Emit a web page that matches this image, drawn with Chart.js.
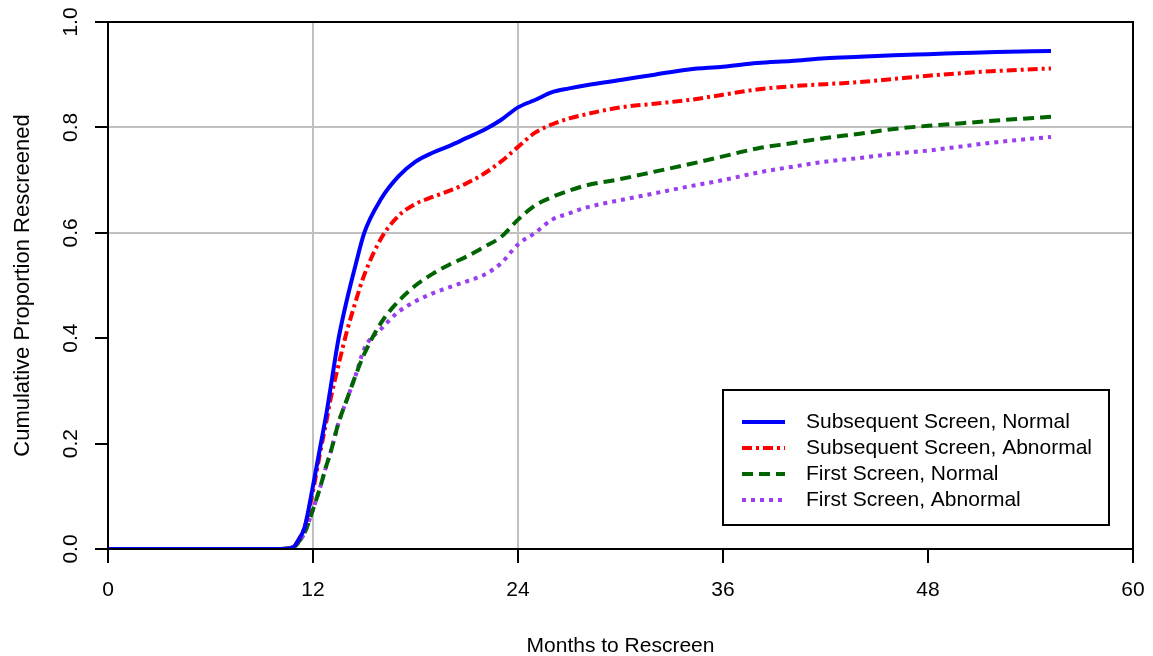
<!DOCTYPE html>
<html>
<head>
<meta charset="utf-8">
<script src="https://cdn.jsdelivr.net/npm/chart.js@4.4.0/dist/chart.umd.min.js"></script>
<style>
  html, body { margin: 0; padding: 0; background: #fff; }
  #wrap { width: 1153px; height: 656px; }
</style>
</head>
<body>
<div id="wrap"><canvas id="rescreen_chart" width="1153" height="656"></canvas></div>
<script>
// values (months since screen -> cumulative proportion)
var months       = [0, 10, 10.8, 11.2, 11.5, 12, 12.4, 12.8, 13, 13.5, 14, 14.5, 15, 16, 17, 18, 19, 20, 21, 22, 23, 24, 25, 26, 27, 28, 30, 32, 34, 36, 38, 40, 42, 44, 46, 48, 50, 52, 55.2];
var subNormal    = [0, 0, 0.003, 0.02, 0.04, 0.12, 0.19, 0.26, 0.30, 0.40, 0.475, 0.54, 0.60, 0.665, 0.707, 0.735, 0.752, 0.765, 0.78, 0.795, 0.814, 0.838, 0.852, 0.867, 0.874, 0.88, 0.89, 0.90, 0.91, 0.915, 0.922, 0.926, 0.931, 0.934, 0.937, 0.939, 0.941, 0.943, 0.945];
var subAbnormal  = [0, 0, 0.003, 0.02, 0.04, 0.11, 0.18, 0.245, 0.28, 0.35, 0.415, 0.47, 0.52, 0.59, 0.632, 0.655, 0.668, 0.68, 0.694, 0.712, 0.735, 0.763, 0.79, 0.806, 0.817, 0.825, 0.838, 0.845, 0.852, 0.862, 0.872, 0.878, 0.882, 0.886, 0.892, 0.898, 0.903, 0.907, 0.912];
var firstNormal  = [0, 0, 0.002, 0.015, 0.03, 0.075, 0.115, 0.16, 0.18, 0.24, 0.285, 0.33, 0.37, 0.43, 0.47, 0.50, 0.522, 0.54, 0.555, 0.573, 0.592, 0.625, 0.652, 0.668, 0.68, 0.69, 0.702, 0.716, 0.73, 0.745, 0.76, 0.77, 0.78, 0.788, 0.797, 0.803, 0.808, 0.813, 0.82];
var firstAbnormal= [0, 0, 0.002, 0.015, 0.03, 0.075, 0.115, 0.16, 0.18, 0.24, 0.285, 0.33, 0.38, 0.418, 0.45, 0.47, 0.485, 0.497, 0.508, 0.52, 0.542, 0.578, 0.60, 0.625, 0.637, 0.648, 0.662, 0.675, 0.688, 0.70, 0.714, 0.725, 0.735, 0.742, 0.75, 0.756, 0.764, 0.772, 0.782];

var seriesLabels = ["Subsequent Screen, Normal", "Subsequent Screen, Abnormal", "First Screen, Normal", "First Screen, Abnormal"];
var xTicks = [0, 12, 24, 36, 48, 60];
var yTicks = [0, 0.2, 0.4, 0.6, 0.8, 1.0];
var xGrid = [12, 24];
var yGrid = [0.6, 0.8];

var FONT = '"Liberation Sans", Arial, sans-serif';

function pts(vals) {
    return months.map(function(m, i) { return {x: m, y: vals[i]}; });
}

function series(label, vals, color, dash) {
    return {
        label: label,
        data: pts(vals),
        borderColor: color,
        backgroundColor: color,
        borderWidth: 4,
        borderDash: dash,
        borderCapStyle: 'butt',
        pointRadius: 0,
        fill: false,
        cubicInterpolationMode: 'monotone'
    };
}

var data = {
    datasets: [
        series(seriesLabels[0], subNormal, '#0000ff', []),
        series(seriesLabels[1], subAbnormal, '#ff0000', [10, 4, 3, 4]),
        series(seriesLabels[2], firstNormal, '#006400', [11, 6]),
        series(seriesLabels[3], firstAbnormal, '#9a3ff0', [4, 5])
    ]
};

// full box round the plot, plus the legend inside it
var boxPlugin = {
    id: 'boxAndLegend',
    afterDraw: function(chart) {
        var ctx = chart.ctx, a = chart.chartArea;
        ctx.save();
        ctx.strokeStyle = '#000';
        ctx.lineWidth = 2;
        ctx.strokeRect(a.left, a.top, a.right - a.left, a.bottom - a.top);

        var w = 386, h = 135;
        var x0 = a.right - 24 - w, y0 = a.bottom - 24 - h;
        ctx.fillStyle = '#fff';
        ctx.fillRect(x0, y0, w, h);
        ctx.strokeRect(x0, y0, w, h);
        ctx.font = '21px ' + FONT;
        ctx.textBaseline = 'middle';
        chart.data.datasets.forEach(function(ds, i) {
            var y = y0 + 32 + i * 26;
            ctx.strokeStyle = ds.borderColor;
            ctx.lineWidth = 4;
            ctx.setLineDash(ds.borderDash);
            ctx.beginPath();
            ctx.moveTo(x0 + 19, y);
            ctx.lineTo(x0 + 62, y);
            ctx.stroke();
            ctx.setLineDash([]);
            ctx.fillStyle = '#000';
            ctx.fillText(ds.label, x0 + 83, y);
        });
        ctx.restore();
    }
};

var options = {
    responsive: false,
    animation: false,
    layout: { padding: { left: 0, top: 22, right: 20, bottom: 0 } },
    plugins: { legend: { display: false }, tooltip: { enabled: false } },
    scales: {
        x: {
            type: 'linear',
            min: 0, max: 60,
            afterBuildTicks: function(s) { s.ticks = xTicks.map(function(v) { return {value: v}; }); },
            afterFit: function(s) { s.height = 107; s.paddingLeft = 0; s.paddingRight = 0; },
            ticks: { color: '#000', font: { size: 21, family: FONT }, padding: 15, maxRotation: 0 },
            grid: {
                color: function(c) { return xGrid.indexOf(c.tick && c.tick.value) >= 0 ? '#c0c0c0' : 'rgba(0,0,0,0)'; },
                lineWidth: 2,
                tickColor: '#000',
                tickWidth: 2,
                tickLength: 14
            },
            border: { display: true, color: '#000', width: 2 },
            title: { display: true, text: 'Months to Rescreen', color: '#000', font: { size: 21, family: FONT }, padding: { top: 0, bottom: -3 } }
        },
        y: {
            type: 'linear',
            min: 0, max: 1,
            afterBuildTicks: function(s) { s.ticks = yTicks.map(function(v) { return {value: v}; }); },
            afterFit: function(s) { s.width = 108; },
            ticks: {
                color: '#000', font: { size: 21, family: FONT },
                minRotation: 90, maxRotation: 90, crossAlign: 'center', padding: 9,
                callback: function(v) { return Number(v).toFixed(1); }
            },
            grid: {
                color: function(c) { return yGrid.indexOf(c.tick && Math.round(c.tick.value * 10) / 10) >= 0 ? '#c0c0c0' : 'rgba(0,0,0,0)'; },
                lineWidth: 2,
                tickColor: '#000',
                tickWidth: 2,
                tickLength: 13
            },
            border: { display: true, color: '#000', width: 2 },
            title: { display: true, text: 'Cumulative Proportion Rescreened', color: '#000', font: { size: 22, family: FONT }, padding: { top: 10, bottom: 0 } }
        }
    }
};

var ctx = document.getElementById("rescreen_chart").getContext("2d");
new Chart(ctx, {type: 'line', data: data, options: options, plugins: [boxPlugin]});
</script>
</body>
</html>
